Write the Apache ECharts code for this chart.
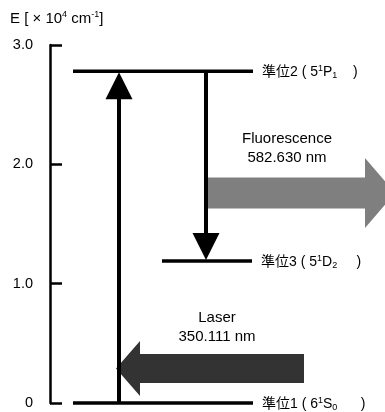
<!DOCTYPE html>
<html>
<head>
<meta charset="utf-8">
<script src="https://cdn.jsdelivr.net/npm/echarts@6/dist/echarts.min.js"></script>
<style>
  html, body { margin: 0; padding: 0; background: #fff; }
  #chart { width: 385px; height: 412px; }
</style>
</head>
<body>
<div id="chart"></div>
<script>
// Energy levels, in units of 10^4 cm^-1
const levelNames = ['準位1', '準位2', '準位3'];
const levelTerms = ['6{sup|1}S{sub|0}', '5{sup|1}P{sub|1}', '5{sup|1}D{sub|2}'];
const levelEnergies = [0, 2.78, 1.19];
const levelCloseGap = [6, 4, 5];      // spaces before the closing parenthesis

// Transitions between levels: [from, to]
const transitionPairs = [[0, 1], [1, 2]];
const transitionTitles = ['Laser', 'Fluorescence'];
const transitionWavelengths = ['350.111 nm', '582.630 nm'];

// Energy axis
const yTicks = [0, 1, 2, 3];
const yMin = 0;
const yMax = 3;

// Horizontal layout (pixels to the right of the energy axis)
const levelSpans = [[23, 203], [23, 203], [112, 202]];
const transitionX = [69, 156];
const beamTail = [254, 157];
const beamTip = [66, 345];
const beamLevel = [0.29, 1.76];        // vertical position of each beam, energy units
const beamBodyHalf = [14.5, 15.5];
const beamHeadHalf = [27.5, 35];
const beamHeadLen = [24, 30];
const beamColors = ['#333333', '#7f7f7f'];
const beamTextX = [167, 237];
const beamTextDy = [-41, -45];

const FONT = '"Liberation Sans", Arial, "Noto Sans CJK JP", sans-serif';
const richScript = {
  sup: { fontSize: 9, verticalAlign: 'top', fontFamily: FONT, fill: '#000', lineHeight: 16 },
  sub: { fontSize: 9, verticalAlign: 'bottom', fontFamily: FONT, fill: '#000', lineHeight: 16 }
};

const chart = echarts.init(document.getElementById('chart'), null, { renderer: 'canvas' });

function arrowHead(tip, dirX, dirY, len, half) {
  // tip point, unit direction of travel, head length and half width
  const bx = tip[0] - dirX * len, by = tip[1] - dirY * len;
  return [tip, [bx - dirY * half, by + dirX * half], [bx + dirY * half, by - dirX * half]];
}

function levelLabel(i) {
  const gap = '\u00a0'.repeat(levelCloseGap[i]);
  return levelNames[i] + '\u00a0(\u00a0' + levelTerms[i] + gap + ')';
}

const option = {
  animation: false,
  title: {
    text: 'E [ × 10{sup|4} cm{sup|-1}]',
    left: 5,
    top: 5,
    textStyle: {
      fontFamily: FONT, fontSize: 15, fontWeight: 'normal', color: '#000',
      rich: {
        sup: { fontSize: 9, verticalAlign: 'top', fontFamily: FONT, color: '#000', lineHeight: 17 }
      }
    }
  },
  grid: { left: 50, right: 0, top: 45, bottom: 9 },
  xAxis: { type: 'value', min: 0, max: 335, show: false },
  yAxis: {
    type: 'value',
    min: yMin,
    max: yMax,
    interval: 1,
    axisLine: { show: true, onZero: false, lineStyle: { color: '#000', width: 2.5 } },
    axisTick: { show: true, inside: true, length: 12, lineStyle: { color: '#000', width: 2.5 } },
    splitLine: { show: false },
    axisLabel: {
      margin: 17,
      fontFamily: FONT, fontSize: 14.5, color: '#000',
      customValues: yTicks,
      formatter: v => (v === 0 ? '0' : v.toFixed(1))
    }
  },
  series: [
    // Broad beams: laser in, fluorescence out
    {
      type: 'custom',
      coordinateSystem: 'cartesian2d',
      clip: false,
      data: transitionTitles.map((t, i) => [i, beamLevel[i]]),
      encode: { x: 0, y: 1 },
      renderItem: (params, api) => {
        const i = params.dataIndex;
        const y = api.value(1);
        const tail = api.coord([beamTail[i], y]);
        const tip = api.coord([beamTip[i], y]);
        const dir = tip[0] > tail[0] ? 1 : -1;
        const bx = tip[0] - dir * beamHeadLen[i];
        const cy = tip[1];
        const bh = beamBodyHalf[i], hh = beamHeadHalf[i];
        const pts = [
          [tail[0], cy - bh], [bx, cy - bh], [bx, cy - hh], tip,
          [bx, cy + hh], [bx, cy + bh], [tail[0], cy + bh]
        ];
        const tx = api.coord([beamTextX[i], y])[0];
        return {
          type: 'group',
          children: [
            { type: 'polygon', shape: { points: pts }, style: { fill: beamColors[i] } },
            {
              type: 'text', x: tx, y: cy + beamTextDy[i],
              style: {
                text: transitionTitles[i] + '\n' + transitionWavelengths[i],
                fill: '#000', font: '15px ' + FONT, lineHeight: 19,
                align: 'center', verticalAlign: 'middle'
              }
            }
          ]
        };
      },
      z: 1
    },
    // Energy levels with labels
    {
      type: 'custom',
      coordinateSystem: 'cartesian2d',
      clip: false,
      data: levelEnergies.map((e, i) => [i, e]),
      encode: { x: 0, y: 1 },
      renderItem: (params, api) => {
        const i = params.dataIndex;
        const y = api.value(1);
        const p0 = api.coord([levelSpans[i][0], y]);
        const p1 = api.coord([levelSpans[i][1], y]);
        return {
          type: 'group',
          children: [
            {
              type: 'line',
              shape: { x1: p0[0], y1: p0[1], x2: p1[0], y2: p1[1] },
              style: { stroke: '#000', lineWidth: 3.5 }
            },
            {
              type: 'text', x: p1[0] + 9, y: p1[1] + 1,
              style: {
                text: levelLabel(i),
                fill: '#000', font: '14px ' + FONT,
                align: 'left', verticalAlign: 'middle',
                rich: richScript
              }
            }
          ]
        };
      },
      z: 2
    },
    // Transition arrows between levels
    {
      type: 'custom',
      coordinateSystem: 'cartesian2d',
      clip: false,
      data: transitionPairs.map((p, i) => [i, levelEnergies[p[0]], levelEnergies[p[1]]]),
      encode: { x: 0, y: [1, 2] },
      renderItem: (params, api) => {
        const i = params.dataIndex;
        const start = api.coord([transitionX[i], api.value(1)]);
        const end = api.coord([transitionX[i], api.value(2)]);
        const dirY = end[1] < start[1] ? -1 : 1;
        const tip = [end[0], end[1] - dirY * 1];
        const headLen = 27, half = 13.5;
        const head = arrowHead(tip, 0, dirY, headLen, half);
        return {
          type: 'group',
          children: [
            {
              type: 'line',
              shape: { x1: start[0], y1: start[1], x2: tip[0], y2: tip[1] - dirY * (headLen - 2) },
              style: { stroke: '#000', lineWidth: 4 }
            },
            { type: 'polygon', shape: { points: head }, style: { fill: '#000' } }
          ]
        };
      },
      z: 3
    }
  ]
};

chart.setOption(option);
</script>
</body>
</html>
